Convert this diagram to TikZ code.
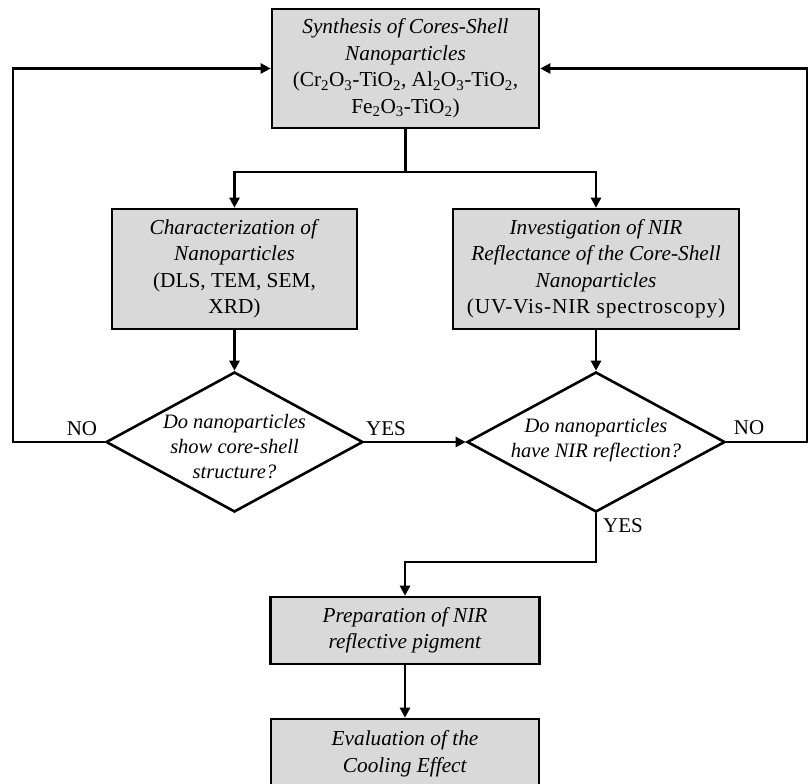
\documentclass[tikz,border=0pt]{standalone}
\usepackage{fontspec}
\setmainfont{Liberation Serif}
\usetikzlibrary{arrows.meta,shapes.geometric}
\definecolor{boxgray}{RGB}{217,217,217}
\begin{document}
\begin{tikzpicture}[x=1pt,y=-1pt,
  procbox/.style={draw=black, fill=boxgray, line width=2.6pt, inner sep=0pt, align=center,
    font=\fontsize{21.3}{26.5}\selectfont},
  decision/.style={draw=black, fill=white, shape=diamond, line width=2.6pt, inner sep=0pt},
  dtext/.style={align=center, inner sep=0pt, font=\fontsize{20.5}{25}\selectfont\itshape},
  lbl/.style={inner sep=0pt, font=\fontsize{21}{25}\selectfont},
  conn/.style={line width=2.4pt, line join=miter},
  arr/.style={conn, -{Triangle[length=10pt,width=10pt]}}
]
\useasboundingbox (0,0) rectangle (809,784);
\clip (0,0) rectangle (809,784);

\node[procbox, minimum width=267pt, minimum height=119pt] (top) at (405.5,68.5)
  {\textit{Synthesis of Cores-Shell}\\ \textit{Nanoparticles}\\
   (Cr\textsubscript{2}O\textsubscript{3}-TiO\textsubscript{2}, Al\textsubscript{2}O\textsubscript{3}-TiO\textsubscript{2},\\
   Fe\textsubscript{2}O\textsubscript{3}-TiO\textsubscript{2})};

\node[procbox, minimum width=245pt, minimum height=120pt] (lbox) at (234.5,269)
  {\textit{Characterization of}\\ \textit{Nanoparticles}\\ (DLS, TEM, SEM,\\ XRD)};

\node[procbox, minimum width=286pt, minimum height=120pt] (rbox) at (596,269)
  {\textit{Investigation of NIR}\\ \textit{Reflectance of the Core-Shell}\\ \textit{Nanoparticles}\\ {\addfontfeatures{LetterSpace=4}(UV-Vis-NIR spectroscopy)}};

\node[decision, minimum width=257pt, minimum height=140pt] (d1) at (234.5,442) {};
\node[dtext] (d1t) at (234.5,447) {Do nanoparticles\\ show core-shell\\ structure?};

\node[decision, minimum width=258pt, minimum height=140pt] (d2) at (596,442) {};
\node[dtext] (d2t) at (596,440) {Do nanoparticles\\ have NIR reflection?};

\node[procbox, minimum width=269pt, minimum height=67pt] (prep) at (405,630.5)
  {\textit{Preparation of NIR}\\ \textit{reflective pigment}};

\node[procbox, minimum width=268pt, minimum height=70pt] (eval) at (405,754)
  {\textit{Evaluation of the}\\ \textit{Cooling Effect}};

\coordinate (j) at (405.5,172);
\coordinate (cl) at (13,442);
\coordinate (cr) at (807,442);
\coordinate (cy) at (596,562);

\draw[conn] (top.south) -- (j);
\draw[arr] (j) -| (lbox.north);
\draw[arr] (j) -| (rbox.north);
\draw[arr] (lbox.south) -- (d1.north);
\draw[arr] (rbox.south) -- (d2.north);
\draw[arr] (d1.east) -- (d2.west);
\draw[arr] (d1.west) -- (cl) |- (top.west);
\draw[arr] (d2.east) -- (cr) |- (top.east);
\draw[arr] (d2.south) -- (cy) -| (prep.north);
\draw[arr] (prep.south) -- (eval.north);

\node[lbl] (no1) at (82,429) {NO};
\node[lbl] (yes1) at (386,429) {YES};
\node[lbl] (no2) at (749,428) {NO};
\node[lbl] (yes2) at (623,526) {YES};
\end{tikzpicture}
\end{document}
